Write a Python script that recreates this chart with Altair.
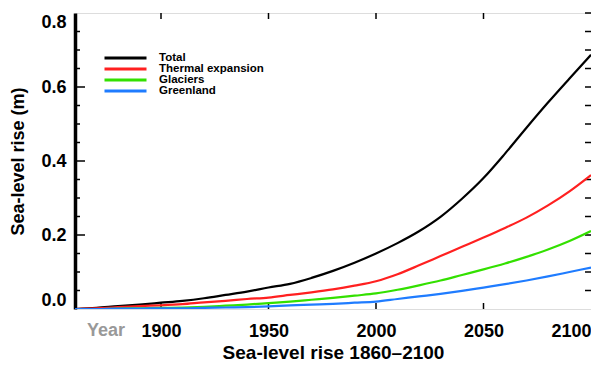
import altair as alt
import pandas as pd

# ---- data ----
years = [1860, 1870, 1880, 1890, 1900, 1910, 1920, 1930, 1940, 1950, 1960, 1970,
         1980, 1990, 2000, 2010, 2020, 2030, 2040, 2050, 2060, 2070, 2080, 2090, 2100]
total = [0.000, 0.003, 0.008, 0.012, 0.017, 0.022, 0.029, 0.038, 0.047, 0.058, 0.068, 0.084,
         0.103, 0.125, 0.150, 0.178, 0.210, 0.249, 0.298, 0.354, 0.420, 0.490, 0.558, 0.623, 0.687]
thermal = [0.000, 0.002, 0.005, 0.008, 0.010, 0.013, 0.018, 0.022, 0.027, 0.031, 0.038, 0.045,
           0.053, 0.063, 0.075, 0.094, 0.118, 0.143, 0.168, 0.193, 0.219, 0.247, 0.280, 0.318, 0.362]
glaciers = [0.000, 0.000, 0.001, 0.002, 0.003, 0.004, 0.006, 0.009, 0.012, 0.016, 0.020, 0.025,
            0.030, 0.036, 0.042, 0.052, 0.064, 0.077, 0.092, 0.107, 0.123, 0.141, 0.161, 0.184, 0.211]
greenland = [0.000, 0.000, 0.001, 0.001, 0.002, 0.002, 0.003, 0.004, 0.005, 0.007, 0.010, 0.012,
             0.014, 0.017, 0.020, 0.027, 0.034, 0.041, 0.049, 0.058, 0.067, 0.077, 0.088, 0.100, 0.112]

series_names = ["Total", "Thermal expansion", "Glaciers", "Greenland"]
series_colors = ["#000000", "#ff2020", "#33e000", "#1f7cff"]

x_label_values = [1900, 1950, 2000, 2050, 2100]
x_tick_values = [1900, 1950, 2000, 2050]
y_label_values = [0.0, 0.2, 0.4, 0.6, 0.8]
y_major_ticks = [0.2, 0.4, 0.6]
y_minor_ticks = [0.05, 0.1, 0.15, 0.25, 0.3, 0.35, 0.45, 0.5, 0.55, 0.65, 0.7, 0.75]

W, H = 516, 296
FONT = "Liberation Sans"

rows = []
for name, vals in zip(series_names, [total, thermal, glaciers, greenland]):
    for y, v in zip(years, vals):
        rows.append({"year": y, "rise": v, "series": name})
df = pd.DataFrame(rows)

xscale = alt.Scale(domain=[1860, 2100], nice=False, zero=False)
yscale = alt.Scale(domain=[0, 0.8], nice=False)

lines = alt.Chart(df).mark_line(strokeWidth=2.2, clip=True, interpolate="monotone").encode(
    x=alt.X("year:Q", scale=xscale,
            axis=alt.Axis(values=x_label_values, ticks=False, domain=False, grid=False,
                          format="d", labelFlush=True, labelPadding=13,
                          labelFont=FONT, labelFontSize=18, labelFontWeight="bold",
                          labelColor="black",
                          title="Sea-level rise 1860\u20132100", titleFont=FONT,
                          titleFontSize=19, titleFontWeight="bold", titlePadding=3,
                          titleColor="black")),
    y=alt.Y("rise:Q", scale=yscale,
            axis=alt.Axis(values=y_label_values, ticks=False, domain=True, domainWidth=3.5,
                          domainColor="black", grid=False, format=".1f", labelFlush=True,
                          labelPadding=9, labelFont=FONT, labelFontSize=18,
                          labelFontWeight="bold", labelColor="black",
                          title="Sea-level rise (m)", titleFont=FONT, titleFontSize=18,
                          titleFontWeight="bold", titlePadding=13, titleColor="black")),
    color=alt.Color("series:N",
                    scale=alt.Scale(domain=series_names, range=series_colors),
                    legend=alt.Legend(orient="none", legendX=28, legendY=40, title=None,
                                      symbolType="stroke", symbolSize=1764,
                                      symbolStrokeWidth=3, clipHeight=10, rowPadding=-1,
                                      labelOffset=11, labelFont=FONT, labelFontSize=11.5,
                                      labelFontWeight="bold", labelColor="black",
                                      padding=0)),
    order=alt.Order("series:N"),
)

tick_style = dict(color="black", strokeWidth=1.5)
ymaj = pd.DataFrame({"v": y_major_ticks})
ymin = pd.DataFrame({"v": y_minor_ticks})
yall = pd.DataFrame({"v": y_major_ticks + y_minor_ticks + [0.8]})
xt = pd.DataFrame({"v": x_tick_values})

left_major = alt.Chart(ymaj).mark_rule(**tick_style).encode(
    y=alt.Y("v:Q", scale=yscale), x=alt.value(0), x2=alt.value(10))
left_minor = alt.Chart(ymin).mark_rule(**tick_style).encode(
    y=alt.Y("v:Q", scale=yscale), x=alt.value(0), x2=alt.value(5))
right_ticks = alt.Chart(yall).mark_rule(**tick_style).encode(
    y=alt.Y("v:Q", scale=yscale), x=alt.value(W - 6), x2=alt.value(W))
bottom_ticks = alt.Chart(xt).mark_rule(**tick_style).encode(
    x=alt.X("v:Q", scale=xscale), y=alt.value(H - 6), y2=alt.value(H))
top_ticks = alt.Chart(xt).mark_rule(**tick_style).encode(
    x=alt.X("v:Q", scale=xscale), y=alt.value(0), y2=alt.value(6))

year_label = alt.Chart(pd.DataFrame({"t": ["Year"]})).mark_text(
    font=FONT, fontSize=18, fontWeight="bold", color="#999999", baseline="top",
    align="center").encode(text="t:N", x=alt.value(31), y=alt.value(H + 13))

chart = alt.layer(left_major, left_minor, right_ticks, bottom_ticks, top_ticks,
                  lines, year_label).properties(
    width=W, height=H,
    autosize=alt.AutoSizeParams(type="none"),
    padding={"left": 67, "top": 5, "right": 0, "bottom": 52},
).configure_view(stroke="black", strokeWidth=2.5).configure(background="white")

chart.save("out.html", embed_options={"renderer": "svg", "actions": False})
